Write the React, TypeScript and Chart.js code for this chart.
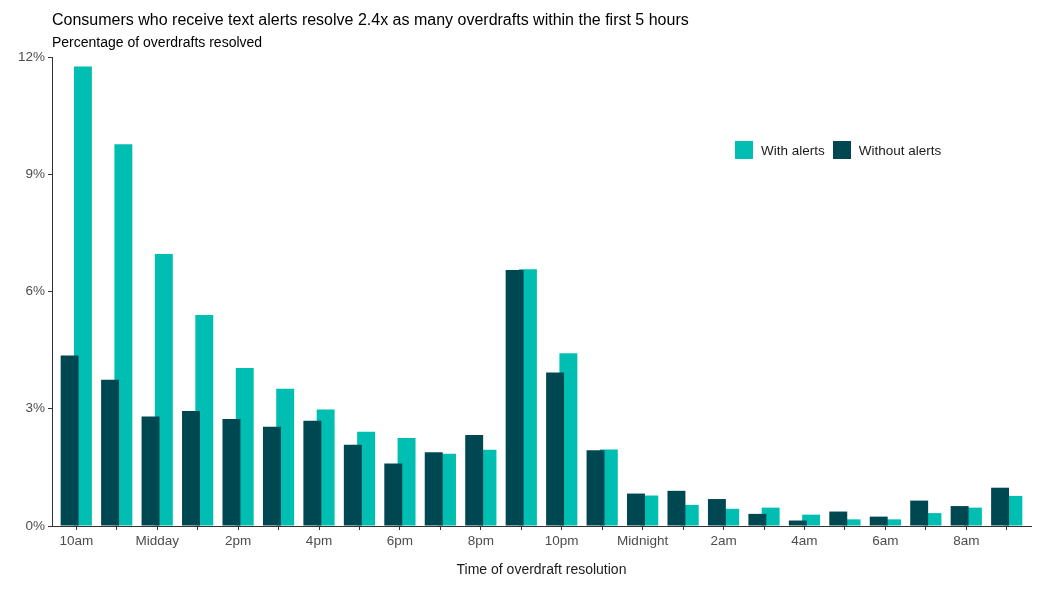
import React, { useEffect, useRef } from 'react';
import { Chart, registerables } from 'chart.js';

Chart.register(...registerables);

const categories = [
  '10am', '11am', 'Midday', '1pm', '2pm', '3pm', '4pm', '5pm', '6pm', '7pm', '8pm', '9pm',
  '10pm', '11pm', 'Midnight', '1am', '2am', '3am', '4am', '5am', '6am', '7am', '8am', '9am',
];

const shownTickLabels = ['10am', 'Midday', '2pm', '4pm', '6pm', '8pm', '10pm', 'Midnight', '2am', '4am', '6am', '8am'];

const withAlerts = [
  11.76, 9.77, 6.96, 5.40, 4.04, 3.51, 2.98, 2.41, 2.25, 1.85, 1.95, 6.57,
  4.42, 1.96, 0.78, 0.54, 0.44, 0.47, 0.29, 0.17, 0.17, 0.33, 0.47, 0.77,
];

const withoutAlerts = [
  4.36, 3.74, 2.80, 2.94, 2.74, 2.54, 2.69, 2.08, 1.60, 1.89, 2.33, 6.55,
  3.93, 1.94, 0.83, 0.90, 0.69, 0.31, 0.14, 0.37, 0.24, 0.65, 0.51, 0.98,
];

const yTicks = [0, 3, 6, 9, 12];

const TEAL = '#00bfb2';
const DARK = '#004851';
const FONT = '"Liberation Sans", Arial, sans-serif';

export default function App() {
  const canvasRef = useRef<HTMLCanvasElement | null>(null);

  useEffect(() => {
    const canvas = canvasRef.current;
    if (!canvas) return;
    const chart = new Chart(canvas, {
      type: 'bar',
      data: {
        datasets: [
          {
            label: 'Without alerts',
            data: withoutAlerts.map((y, i) => ({ x: i, y })),
            backgroundColor: DARK,
            borderWidth: 0,
            categoryPercentage: 0.657,
            barPercentage: 1.35,
          },
          {
            label: 'With alerts',
            data: withAlerts.map((y, i) => ({ x: i, y })),
            backgroundColor: TEAL,
            borderWidth: 0,
            categoryPercentage: 0.657,
            barPercentage: 1.35,
          },
        ],
      },
      options: {
        animation: false,
        responsive: false,
        maintainAspectRatio: false,
        layout: { padding: { top: 57, right: 22, bottom: 0, left: 0 } },
        plugins: {
          legend: { display: false },
          title: { display: false },
          tooltip: { enabled: false },
        },
        scales: {
          x: {
            type: 'linear',
            offset: false,
            min: -0.6,
            max: 23.6,
            afterBuildTicks: (scale: any) => {
              scale.ticks = categories.map((_, i) => ({ value: i }));
            },
            afterFit: (scale: any) => {
              scale.height = 63;
            },
            ticks: {
              autoSkip: false,
              maxRotation: 0,
              minRotation: 0,
              padding: 3,
              color: '#4d4d4d',
              font: { family: FONT, size: 13.5 },
              callback: (value: any) => {
                const lbl = categories[Math.round(Number(value))];
                return shownTickLabels.includes(lbl) ? lbl : '';
              },
            },
            grid: {
              display: true,
              offset: false,
              drawOnChartArea: false,
              drawTicks: true,
              tickLength: 4,
              color: '#333333',
            },
            border: { display: true, color: '#333333', width: 1 },
            title: {
              display: true,
              text: 'Time of overdraft resolution',
              color: '#1a1a1a',
              font: { family: FONT, size: 14 },
              padding: { top: 0, bottom: 10 },
            },
          },
          y: {
            type: 'linear',
            min: 0,
            max: 12,
            afterBuildTicks: (scale: any) => {
              scale.ticks = yTicks.map((v) => ({ value: v }));
            },
            afterFit: (scale: any) => {
              scale.width = 52;
            },
            ticks: {
              padding: 3,
              color: '#4d4d4d',
              font: { family: FONT, size: 13.5 },
              callback: (value: any) => `${value}%`,
            },
            grid: {
              display: true,
              drawOnChartArea: false,
              drawTicks: true,
              tickLength: 4,
              color: '#333333',
            },
            border: { display: true, color: '#333333', width: 1 },
          },
        },
      },
    });
    return () => chart.destroy();
  }, []);

  const legendItems = [
    { label: 'With alerts', color: TEAL },
    { label: 'Without alerts', color: DARK },
  ];

  return (
    <div style={{ position: 'absolute', left: 0, top: 0, width: 1053, height: 589, background: '#fff', fontFamily: FONT }}>
      <canvas ref={canvasRef} width={1053} height={589} style={{ position: 'absolute', left: 0, top: 0 }} />
      <div style={{ position: 'absolute', left: 52, top: 11, fontSize: 16, lineHeight: '18px', color: '#000', whiteSpace: 'nowrap' }}>
        Consumers who receive text alerts resolve 2.4x as many overdrafts within the first 5 hours
      </div>
      <div style={{ position: 'absolute', left: 52, top: 34, fontSize: 14, lineHeight: '16px', color: '#000', whiteSpace: 'nowrap' }}>
        Percentage of overdrafts resolved
      </div>
      <div style={{ position: 'absolute', left: 735, top: 141, height: 18, display: 'flex', alignItems: 'center', whiteSpace: 'nowrap' }}>
        {legendItems.map((it, i) => (
          <div key={it.label} style={{ display: 'flex', alignItems: 'center', marginLeft: i === 0 ? 0 : 8 }}>
            <span style={{ display: 'inline-block', width: 18, height: 18, background: it.color }} />
            <span style={{ marginLeft: 8, fontSize: 13.5, color: '#1a1a1a' }}>{it.label}</span>
          </div>
        ))}
      </div>
    </div>
  );
}
